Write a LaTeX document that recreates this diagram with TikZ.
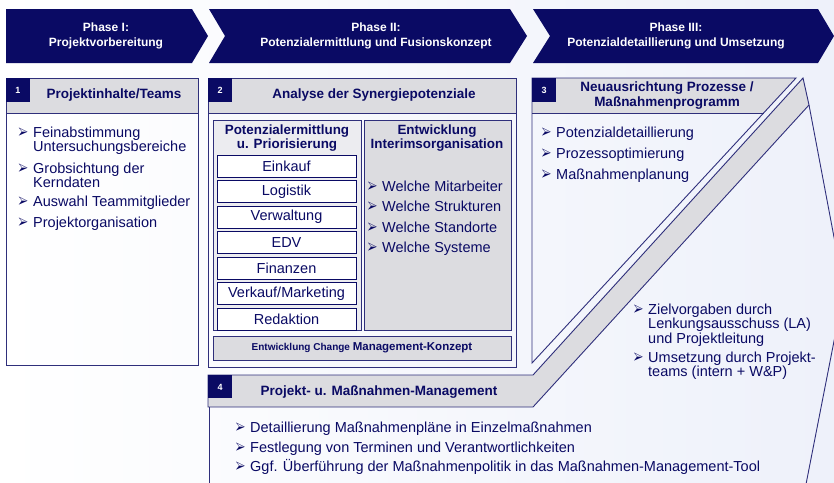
\documentclass[tikz,border=0pt]{standalone}
\usepackage{fontspec}
\usepackage{pifont}
\setmainfont{Liberation Sans}

\definecolor{navy}{RGB}{10,10,100}
\definecolor{panelgray}{RGB}{220,220,224}
\definecolor{colgray}{RGB}{236,236,240}
\definecolor{pagebg}{RGB}{238,241,250}

\newcommand{\arr}{{\fontsize{10.5}{10.5}\selectfont\scalebox{1}[1.5]{\ding{226}}}}
\newcommand{\itm}[1]{\llap{\raisebox{0pt}{\arr}\hspace{5pt}}\begin{tabular}[t]{@{}l@{}}#1\end{tabular}}

\tikzset{
  phase/.style={fill=navy},
  phasetxt/.style={text=white,align=center,font=\bfseries\fontsize{12}{15}\selectfont},
  frame/.style={draw=navy!85,line width=0.9pt},
  badgetxt/.style={text=white,font=\bfseries\fontsize{9}{9}\selectfont},
  headtxt/.style={align=center,font=\bfseries\fontsize{13.5}{15}\selectfont},
  coltxt/.style={align=center,font=\bfseries\fontsize{13.4}{12.5}\selectfont},
  itembox/.style={draw=navy,fill=white,line width=0.9pt,minimum width=139pt,minimum height=22pt,inner sep=0pt,font=\fontsize{14.5}{14}\selectfont},
  bul/.style={anchor=base west,inner sep=0pt,font=\fontsize{14.5}{14}\selectfont}
}

\begin{document}
\begin{tikzpicture}[x=1pt,y=-1pt,every node/.style={text=navy}]
\useasboundingbox (0,0) rectangle (834,482);
\clip (0,0) rectangle (834,482);
\shade[left color=white,right color=pagebg] (0,0) rectangle (834,482);

% phases
\fill[phase] (6,9) -- (192,9) -- (208,36) -- (192,63) -- (6,63) -- cycle;
\fill[phase] (209,9) -- (510,9) -- (527,36) -- (510,63) -- (209,63) -- (225,36) -- cycle;
\fill[phase] (533,9) -- (818,9) -- (834,36) -- (818,63) -- (533,63) -- (550,36) -- cycle;
\node[phasetxt] (ph1) at (106,36) {Phase I:\\Projektvorbereitung};
\node[phasetxt] (ph2) at (376,36) {Phase II:\\Potenzialermittlung und Fusionskonzept};
\node[phasetxt] (ph3) at (676,36) {Phase III:\\Potenzialdetaillierung und Umsetzung};

% box 1
\fill[panelgray] (6,78) rectangle (198,113);
\draw[frame] (6,78) rectangle (198,365);
\draw[frame] (6,113) -- (198,113);
\fill[navy] (6,78) rectangle (30,102);
\node[badgetxt] (n1) at (18,90) {1};
\node[headtxt] (h1) at (114,95) {Projektinhalte/Teams};
\node[bul] (b1a) at (33,137) {\itm{Feinabstimmung\\Untersuchungsbereiche}};
\node[bul] (b1b) at (33,173) {\itm{Grobsichtung der\\Kerndaten}};
\node[bul] (b1c) at (33,206) {\itm{Auswahl Teammitglieder}};
\node[bul] (b1d) at (33,227) {\itm{Projektorganisation}};

% box 2
\fill[panelgray] (208,78) rectangle (516,113);
\draw[frame] (208,78) rectangle (516,367);
\draw[frame] (208,113) -- (516,113);
\fill[navy] (208,78) rectangle (232,102);
\node[badgetxt] (n2) at (220,90) {2};
\node[headtxt] (h2) at (374,95) {Analyse der Synergiepotenziale};
\filldraw[frame,fill=colgray] (213,120) rectangle (361,330);
\filldraw[frame,fill=panelgray] (364,120) rectangle (511,330);
\node[coltxt] (pot) at (287,138) {Potenzialermittlung\\u. Priorisierung};
\node[coltxt] (int) at (437,138) {Entwicklung\\Interimsorganisation};
\node[itembox] (einkauf) at (286.5,166) {Einkauf};
\node[itembox] (logistik) at (286.5,191.5) {Logistik};
\node[itembox] (verwaltung) at (286.5,217) {Verwaltung};
\node[itembox] (edv) at (286.5,242.5) {EDV};
\node[itembox] (finanzen) at (286.5,268) {Finanzen};
\node[itembox] (verkauf) at (286.5,293.5) {Verkauf/Marketing};
\node[itembox] (redaktion) at (286.5,319) {Redaktion};
\node[bul] (b2a) at (382,191) {\itm{Welche Mitarbeiter}};
\node[bul] (b2b) at (382,211) {\itm{Welche Strukturen}};
\node[bul] (b2c) at (382,232) {\itm{Welche Standorte}};
\node[bul] (b2d) at (382,252) {\itm{Welche Systeme}};
\filldraw[frame,fill=panelgray] (213,336) rectangle (511,360);
\node[font=\bfseries\fontsize{11.5}{12}\selectfont] (chg) at (362,348)
  {{\fontsize{10}{12}\selectfont Entwicklung Change }Management-Konzept};

% box 3
\fill[panelgray] (532,78) -- (796,78) -- (764,113) -- (532,113) -- cycle;
\draw[frame] (532,78) -- (796,78) -- (532,363) -- cycle;
\draw[frame] (532,113) -- (764,113);
\fill[navy] (532,78) rectangle (556,102);
\node[badgetxt] (n3) at (544,90) {3};
\node[headtxt] (h3) at (667,95.5) {Neuausrichtung Prozesse /\\Maßnahmenprogramm};
\node[bul] (b3a) at (556,137) {\itm{Potenzialdetaillierung}};
\node[bul] (b3b) at (556,158) {\itm{Prozessoptimierung}};
\node[bul] (b3c) at (556,179) {\itm{Maßnahmenplanung}};

% box 4
\filldraw[frame,fill=panelgray] (208,375) -- (533,375) -- (803,78) -- (809,105) -- (533,407) -- (208,407) -- cycle;
\draw[frame] (809,105) -- (844,290) -- (799,520);
\draw[frame] (209,407) -- (209,490);
\fill[navy] (208,375) rectangle (232,398);
\node[badgetxt] (n4) at (220,387) {4};
\node[headtxt,anchor=west] (h4) at (257,392) {Projekt- u. Maßnahmen-Management};
\node[bul] (b4a) at (648,314) {\itm{Zielvorgaben durch\\Lenkungsausschuss (LA)\\und Projektleitung}};
\node[bul] (b4b) at (648,362) {\itm{Umsetzung durch Projekt-\\teams (intern + W\&P)}};
\node[bul] (b4c) at (250,432) {\itm{Detaillierung Maßnahmenpläne in Einzelmaßnahmen}};
\node[bul] (b4d) at (250,452) {\itm{Festlegung von Terminen und Verantwortlichkeiten}};
\node[bul] (b4e) at (250,471) {\itm{Ggf. Überführung der Maßnahmenpolitik in das Maßnahmen-Management-Tool}};
\end{tikzpicture}
\end{document}
